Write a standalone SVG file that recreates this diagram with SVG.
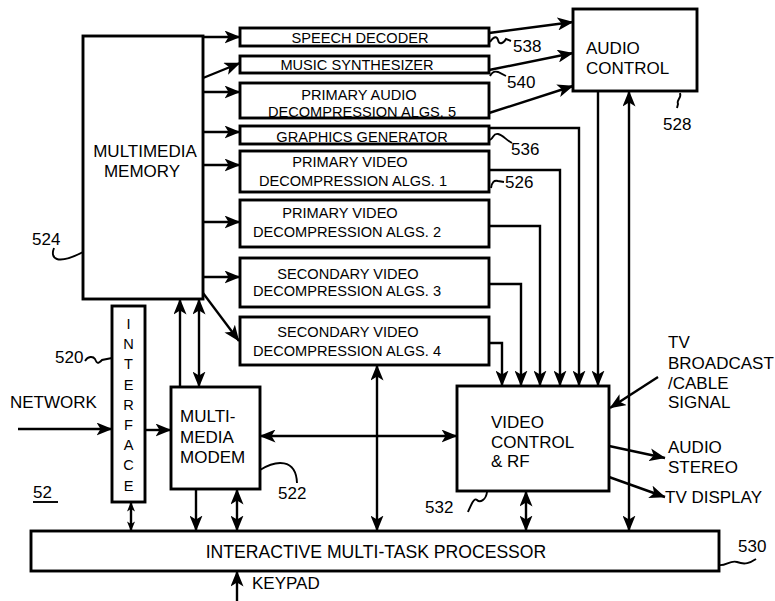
<svg xmlns="http://www.w3.org/2000/svg" width="775" height="601" viewBox="0 0 775 601">
<style>
  .box{fill:#fff;stroke:#000;stroke-width:2.9}
  .ln{fill:none;stroke:#000;stroke-width:2.4}
  .ld{fill:none;stroke:#000;stroke-width:1.9}
  .a{marker-end:url(#ah)}
  .b{marker-start:url(#ah);marker-end:url(#ah)}
  .bs{marker-start:url(#as);marker-end:url(#as)}
  text{font-family:"Liberation Sans",Arial,sans-serif;fill:#000}
  .t14{font-size:14.6px}
  .t17{font-size:17px}
  .mid{text-anchor:middle}
</style>
<defs>
  <marker id="ah" viewBox="0 0 16 13" refX="15.5" refY="6.5" markerWidth="16" markerHeight="13" markerUnits="userSpaceOnUse" orient="auto-start-reverse">
    <path d="M0,0 L16,6.5 L0,13 L4,6.5 z" fill="#000"/>
  </marker>
  <marker id="as" viewBox="0 0 16 13" refX="15.5" refY="6.5" markerWidth="10" markerHeight="8" markerUnits="userSpaceOnUse" orient="auto-start-reverse">
    <path d="M0,0 L16,6.5 L0,13 L4,6.5 z" fill="#000"/>
  </marker>
</defs>
<rect width="775" height="601" fill="#fff"/>

<g id="connectors">
  <path class="ln a" d="M203,37 H240"/>
  <path class="ln a" d="M203,78 L240,63"/>
  <path class="ln a" d="M203,92 H240"/>
  <path class="ln a" d="M203,132 H240"/>
  <path class="ln a" d="M203,165 H240"/>
  <path class="ln a" d="M203,222 H240"/>
  <path class="ln a" d="M203,277 H240"/>
  <path class="ln a" d="M203,293 L239,341"/>
  <path class="ln a" d="M489,33 L573,22"/>
  <path class="ln a" d="M489,70 L573,53"/>
  <path class="ln a" d="M489,113 L573,86"/>
  <path class="ln a" d="M489,128 H579 V386"/>
  <path class="ln a" d="M489,170 H560 V386"/>
  <path class="ln a" d="M489,226 H540 V386"/>
  <path class="ln a" d="M489,284 H521 V386"/>
  <path class="ln a" d="M489,343 H502 V386"/>
  <path class="ln a" d="M598,91 V386"/>
  <path class="ln b" d="M629,91 V531"/>
  <path class="ln b" d="M377,365 V531"/>
  <path class="ln b" d="M260,436 H457"/>
  <path class="ln b" d="M526,491 V531"/>
  <path class="ln bs" d="M131,502 V531"/>
  <path class="ln a" d="M196,489 V531"/>
  <path class="ln b" d="M237,489 V531"/>
  <path class="ln a" d="M180,387 V299"/>
  <path class="ln b" d="M199,299 V387"/>
  <path class="ln a" d="M18,429 H112"/>
  <path class="ln a" d="M145,430 H171"/>
  <path class="ln a" d="M237,601 V571"/>
  <path class="ln a" d="M658,377 L610,408"/>
  <path class="ln a" d="M609,446 L665,458"/>
  <path class="ln a" d="M609,477 L665,497"/>
</g>

<g id="multimedia-memory">
  <rect class="box" x="83" y="36" width="120" height="263"/>
  <text class="t17 mid" x="145" y="157">MULTIMEDIA</text>
  <text class="t17 mid" x="142" y="177">MEMORY</text>
  <path class="ld" d="M54,248 C50,258 56,266 83,252"/>
  <text class="t17" x="32" y="245">524</text>
</g>

<g id="speech-decoder">
  <rect class="box" x="240" y="28" width="249" height="18"/>
  <text class="t14 mid" x="360" y="42.5">SPEECH DECODER</text>
  <path class="ld" d="M490,42 C494,36 497,36 498,40 C499,45 503,44 506,39 L511,41"/>
  <text class="t17" x="513" y="52">538</text>
</g>

<g id="music-synthesizer">
  <rect class="box" x="240" y="56" width="249" height="17"/>
  <text class="t14 mid" x="357" y="70">MUSIC SYNTHESIZER</text>
  <path class="ld" d="M490,76 C492,72 495,71 498,72 L506,76"/>
  <text class="t17" x="507" y="88">540</text>
</g>

<g id="primary-audio">
  <rect class="box" x="240" y="83" width="249" height="35"/>
  <text class="t14 mid" x="359" y="100">PRIMARY AUDIO</text>
  <text class="t14 mid" x="362" y="116.5">DECOMPRESSION ALGS. 5</text>
</g>

<g id="graphics-generator">
  <rect class="box" x="240" y="126" width="249" height="18"/>
  <text class="t14 mid" x="362" y="141.5">GRAPHICS GENERATOR</text>
  <path class="ld" d="M490,140 C494,138 493,133 498,134 C503,135 506,140 512,143"/>
  <text class="t17" x="511" y="155">536</text>
</g>

<g id="primary-video-1">
  <rect class="box" x="240" y="151" width="249" height="41"/>
  <text class="t14 mid" x="350" y="167">PRIMARY VIDEO</text>
  <text class="t14 mid" x="353" y="186">DECOMPRESSION ALGS. 1</text>
  <path class="ld" d="M491,188 C492,182 494,180 498,181 L504,182"/>
  <text class="t17" x="505" y="188">526</text>
</g>

<g id="primary-video-2">
  <rect class="box" x="240" y="200" width="249" height="47"/>
  <text class="t14 mid" x="340" y="218">PRIMARY VIDEO</text>
  <text class="t14 mid" x="347" y="237">DECOMPRESSION ALGS. 2</text>
</g>

<g id="secondary-video-3">
  <rect class="box" x="240" y="258" width="249" height="49"/>
  <text class="t14 mid" x="348" y="279">SECONDARY VIDEO</text>
  <text class="t14 mid" x="347" y="296">DECOMPRESSION ALGS. 3</text>
</g>

<g id="secondary-video-4">
  <rect class="box" x="240" y="317" width="249" height="48"/>
  <text class="t14 mid" x="348" y="337">SECONDARY VIDEO</text>
  <text class="t14 mid" x="347" y="356">DECOMPRESSION ALGS. 4</text>
</g>

<g id="audio-control">
  <rect class="box" x="573" y="9" width="124" height="82"/>
  <text class="t17" x="586" y="54">AUDIO</text>
  <text class="t17" x="586" y="74">CONTROL</text>
  <path class="ld" d="M680,93 C682,98 676,100 678,104 L677,108"/>
  <text class="t17" x="663" y="130">528</text>
</g>

<g id="interface">
  <rect class="box" x="112" y="306" width="33" height="196"/>
  <text class="t14 mid" x="128.5" y="329">I</text>
  <text class="t14 mid" x="128.5" y="349">N</text>
  <text class="t14 mid" x="128.5" y="369">T</text>
  <text class="t14 mid" x="128.5" y="390">E</text>
  <text class="t14 mid" x="128.5" y="410">R</text>
  <text class="t14 mid" x="128.5" y="430">F</text>
  <text class="t14 mid" x="128.5" y="450">A</text>
  <text class="t14 mid" x="128.5" y="470">C</text>
  <text class="t14 mid" x="128.5" y="491">E</text>
  <path class="ld" d="M85,361 C88,356 93,356 95,359 C97,364 98,364 102,360 L112,358"/>
  <text class="t17" x="55" y="363">520</text>
</g>

<g id="multimedia-modem">
  <rect class="box" x="171" y="387" width="89" height="102"/>
  <text class="t17" x="180" y="422">MULTI-</text>
  <text class="t17" x="180" y="443">MEDIA</text>
  <text class="t17" x="180" y="463">MODEM</text>
  <path class="ld" d="M260,470 C276,460 296,458 297,483"/>
  <text class="t17" x="278" y="499">522</text>
</g>

<g id="video-control">
  <rect class="box" x="457" y="386" width="152" height="105"/>
  <text class="t17" x="491" y="428">VIDEO</text>
  <text class="t17" x="491" y="448">CONTROL</text>
  <text class="t17" x="491" y="467">&amp; RF</text>
  <path class="ld" d="M487,492 C486,500 480,503 477,500 C474,497 471,505 468,512"/>
  <text class="t17" x="425" y="513">532</text>
</g>

<g id="processor">
  <rect class="box" x="31" y="531" width="688" height="40"/>
  <text class="mid" style="font-size:17.6px" x="376" y="558">INTERACTIVE MULTI-TASK PROCESSOR</text>
  <path class="ld" d="M719,565 C726,566 730,560 737,562 C745,565 750,563 756,559"/>
  <text class="t17" x="738" y="552">530</text>
</g>

<g id="external-labels">
  <text class="t17" x="10" y="408">NETWORK</text>
  <text class="t17" x="33" y="498">52</text>
  <path class="ld" d="M33,502 H58"/>
  <text class="t17" x="668" y="348">TV</text>
  <text class="t17" x="668" y="369">BROADCAST</text>
  <text class="t17" x="668" y="389">/CABLE</text>
  <text class="t17" x="668" y="408">SIGNAL</text>
  <text class="t17" x="668" y="453">AUDIO</text>
  <text class="t17" x="668" y="473">STEREO</text>
  <text class="t17" x="665" y="503">TV DISPLAY</text>
  <text class="t17" x="252" y="589">KEYPAD</text>
</g>
</svg>
